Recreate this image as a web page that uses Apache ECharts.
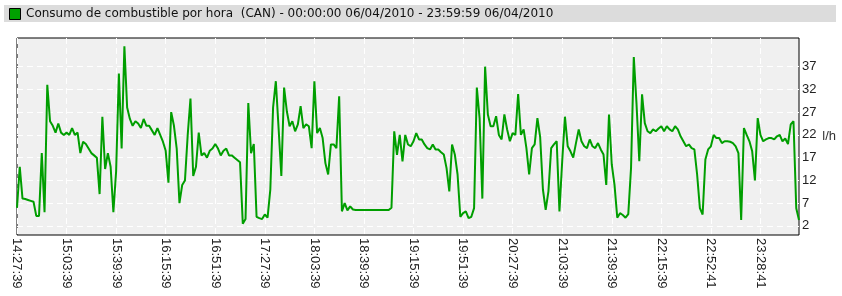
<!DOCTYPE html>
<html>
<head>
<meta charset="utf-8">
<script src="https://cdn.jsdelivr.net/npm/echarts@6/dist/echarts.min.js"></script>
<style>html,body{margin:0;padding:0;background:#fff;}#c{width:842px;height:296px;}</style>
</head>
<body>
<div id="c"></div>
<script>
// Samples every ~2 minutes; one tick label every 18 samples
const samplesPerTick = 18;
const tickLabels = ["14:27:39","15:03:39","15:39:39","16:15:39","16:51:39","17:27:39","18:03:39","18:39:39",
  "19:15:39","19:51:39","20:27:39","21:03:39","21:39:39","22:15:39","22:52:41","23:28:41"];
const yTicks = [2, 7, 12, 17, 22, 27, 32, 37];
const consumo = [
  6,15,8,7.9,7.7,7.5,7.3,4.2,4.2,18,
  5,33,25,24,22.5,24.5,22.5,22,22.5,22,
  23.5,22,22.5,18,20.5,20,19,18,17.5,17,
  9,26,14.5,18,15,5,14,35.5,19,41.5,
  28,25.5,24,25,24.5,23.5,25.5,24,24,23,
  22,23.5,22,20.5,18.5,11.5,27,24,19,7,
  11,12,22,30,13,15,22.5,17.5,18,17,
  18.5,19,20,19,17.5,18.5,19,17.5,17.5,17,
  16.5,16,2.5,3.5,29,18,20,4,3.7,3.5,
  4.5,3.8,10,28,33.8,23.5,13,32.4,27.2,23.9,
  25,22.8,24.3,28.3,23.5,24.3,23.9,19.1,33.8,22.4,
  23.5,21.3,15.8,13.3,19.9,19.9,19.1,30.5,5.2,7,
  5.4,6.3,5.6,5.5,5.5,5.5,5.5,5.5,5.5,5.5,
  5.5,5.5,5.5,5.5,5.5,5.5,6,22.8,17.6,22,
  16.2,22,19.9,19.5,20.6,22.4,21,21,19.9,19.1,
  18.8,19.9,18.8,18.8,18.2,17.7,14.7,9.6,19.9,17.7,
  13.3,4,4.8,5.2,3.7,4,5.9,32.4,25.7,8,
  37,26.5,23.9,23.9,26.1,22,21,26.5,23.2,20.6,
  22.4,22,31,22,23.2,19.1,13.3,19.1,19.9,25.7,
  21.5,10,5.5,9.6,19.1,19.9,20.6,5.2,16.2,26,
  19.5,18.4,17,20.2,23.2,20.6,19.5,19.1,21,19.5,
  19.1,20.2,18.8,17.7,11,26.5,15.5,11,3.8,4.8,
  4.4,3.8,4.6,14.7,39.1,28.7,16.2,30.9,24.6,22.8,
  22.4,23.2,22.8,23.4,23.9,22.8,23.9,23.2,22.8,23.9,
  23.2,21.7,20.6,19.5,19.9,19.1,18.8,13.3,5.9,4.5,
  16.6,18.8,19.5,22,21.3,21.3,20.2,20.6,20.6,20.5,
  20.2,19.5,18,3.3,23.5,22,20.6,18.4,12,25.7,
  22,20.6,21,21.3,21.3,21,21.7,22,20.6,21.2,
  20,24.3,25,5.9,3.3
];
const titleText = "Consumo de combustible por hora  (CAN) - 00:00:00 06/04/2010 - 23:59:59 06/04/2010";

const categories = consumo.map((v, i) => i);
const chart = echarts.init(document.getElementById('c'), null, {renderer: 'canvas'});
chart.setOption({
  animation: false,
  graphic: [
    {type: 'rect', shape: {x: 4, y: 5, width: 832, height: 17}, style: {fill: '#dcdcdc'}},
    {type: 'rect', shape: {x: 9.5, y: 8.5, width: 11, height: 11}, style: {fill: '#00a000', stroke: '#000', lineWidth: 1}},
    {type: 'text', x: 26, y: 14, style: {text: titleText, fill: '#111', font: '12px "DejaVu Sans"', verticalAlign: 'middle'}}
  ],
  grid: {left: 17, right: 43, top: 38, bottom: 61, show: true, backgroundColor: '#f0f0f0', borderColor: '#000', borderWidth: 1},
  xAxis: {
    type: 'category', data: categories, boundaryGap: false,
    axisLine: {show: false}, axisTick: {show: false},
    axisLabel: {
      interval: samplesPerTick - 1, rotate: -90, margin: 3, fontSize: 13,
      fontFamily: 'Liberation Sans', color: '#222',
      formatter: (v, i) => (i % samplesPerTick === 0 && tickLabels[i / samplesPerTick]) ? tickLabels[i / samplesPerTick] : ''
    },
    splitLine: {show: true, interval: samplesPerTick - 1, lineStyle: {color: '#fff', type: [6, 4], width: 1}}
  },
  yAxis: {
    type: 'value', position: 'right', min: 0, max: 43.3,
    name: 'l/h', nameLocation: 'middle', nameGap: 21, nameRotate: 0,
    nameTextStyle: {fontSize: 13, fontFamily: 'Liberation Sans', color: '#333', align: 'left', padding: [17, 0, 0, 0]},
    axisLine: {show: false},
    axisTick: {show: false, customValues: yTicks},
    axisLabel: {customValues: yTicks, margin: 3, fontSize: 13, fontFamily: 'Liberation Sans', color: '#222'},
    splitLine: {show: true, lineStyle: {color: '#fff', type: [6, 4], width: 1}}
  },
  series: [{
    type: 'line', data: consumo, showSymbol: false, symbol: 'none',
    lineStyle: {color: '#009e00', width: 2}, silent: true
  }]
});
</script>
</body>
</html>
